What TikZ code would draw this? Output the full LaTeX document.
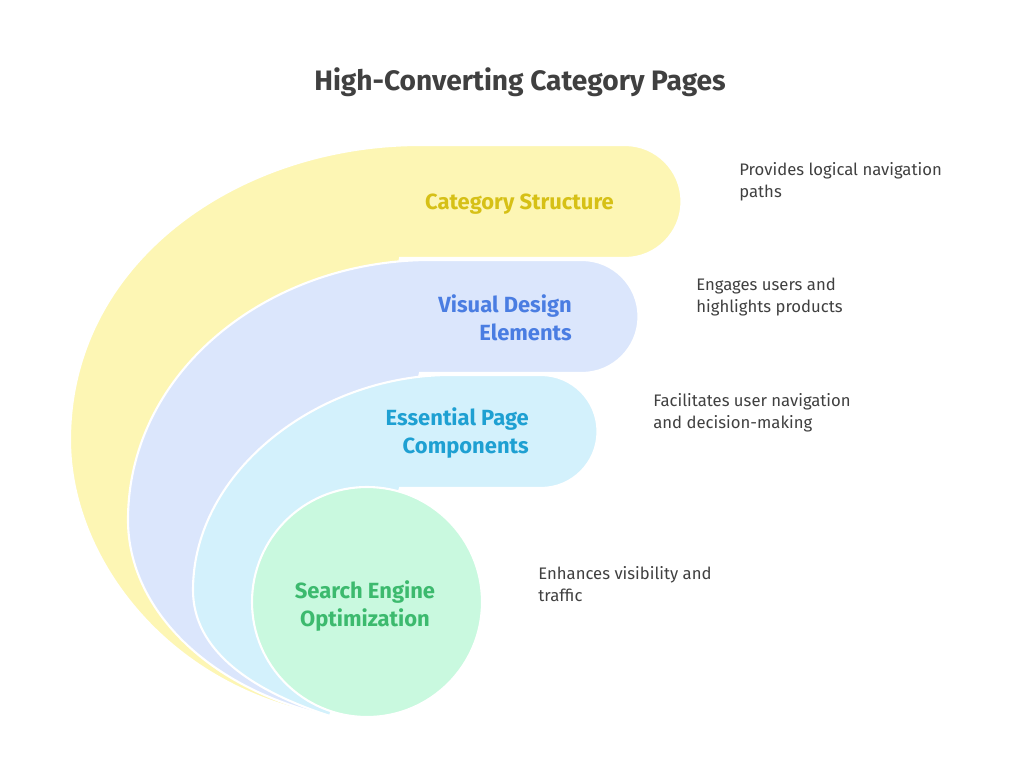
\documentclass[tikz,border=0pt]{standalone}
\usepackage{fontspec}
\setmainfont{Fira Sans}
\definecolor{catfill}{RGB}{253,246,180}
\definecolor{catText}{RGB}{214,192,22}
\definecolor{visfill}{RGB}{219,230,252}
\definecolor{visText}{RGB}{74,125,226}
\definecolor{essfill}{RGB}{211,241,252}
\definecolor{essText}{RGB}{30,160,210}
\definecolor{seofill}{RGB}{201,249,223}
\definecolor{seoText}{RGB}{60,186,110}
\definecolor{darktext}{RGB}{64,64,64}
\begin{document}
\begin{tikzpicture}[x=0.02cm,y=-0.02cm,
        layer/.style={draw=white,line width=1.2pt},
        label/.style={font=\fontsize{12.5}{16}\selectfont\bfseries,align=right},
        desc/.style={font=\fontsize{9.5}{12.5}\selectfont,text=darktext,align=left,anchor=north west,inner sep=0pt}
    ]
    \useasboundingbox[fill=white] (0,0) rectangle (1024,777);

    % layers
    \fill[catfill,layer] (330,716) .. controls (170,690) and (70,560) .. (70,440)
        .. controls (70,260) and (240,145) .. (420,145) -- (625,145)
        arc[start angle=-90,end angle=90,radius=56.5] -- (400,258) -- cycle;
    \fill[visfill,layer] (330,716) .. controls (210,690) and (128,610) .. (128,520)
        .. controls (128,370) and (270,260) .. (430,260) -- (582,260)
        arc[start angle=-90,end angle=90,radius=56.5] -- (420,373) -- cycle;
    \fill[essfill,layer] (330,716) .. controls (250,690) and (193,650) .. (193,590)
        .. controls (193,470) and (320,375) .. (450,375) -- (541,375)
        arc[start angle=-90,end angle=90,radius=56.5] -- (400,488) -- cycle;
    \fill[seofill,layer] (367,602) circle[radius=115];

    \node[font=\fontsize{16}{19}\selectfont\bfseries,text=darktext] (title) at (520,82) {High-Converting Category Pages};

    \node[label,text=catText,anchor=east] (cat) at (620,204) {Category Structure};
    \node[label,text=visText,anchor=east] (vis) at (578,318) {Visual Design\\Elements};
    \node[label,text=essText,anchor=east] (ess) at (535,433) {Essential Page\\Components};
    \node[label,text=seoText,align=center] (seo) at (365,606) {Search Engine\\Optimization};

    \node[desc] (catdesc) at (739,162) {Provides logical navigation\\paths};
    \node[desc] (visdesc) at (696,278) {Engages users and\\highlights products};
    \node[desc] (essdesc) at (653,393) {Facilitates user navigation\\and decision-making};
    \node[desc] (seodesc) at (538,566) {Enhances visibility and\\traffic};
\end{tikzpicture}
\end{document}
